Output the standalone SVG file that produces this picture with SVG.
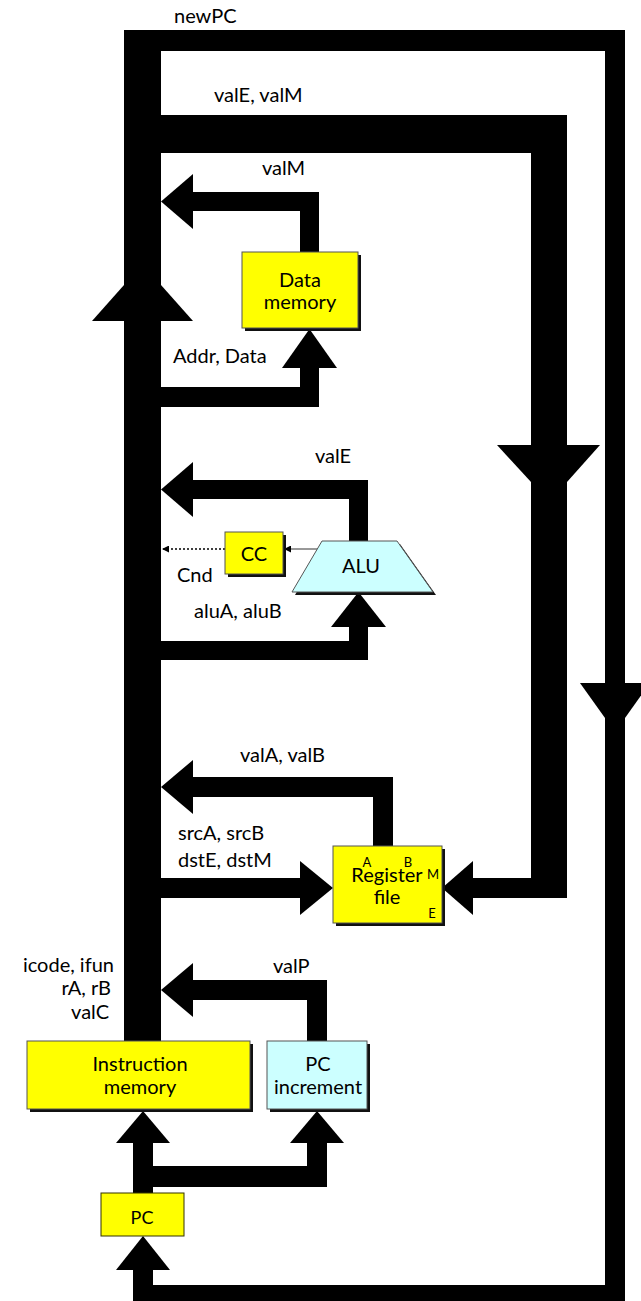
<svg xmlns="http://www.w3.org/2000/svg" width="641" height="1301" viewBox="0 0 641 1301">
<style>
.t{font-family:Lato,"Open Sans","Liberation Sans",sans-serif;font-size:20px;fill:#000}
.c{text-anchor:middle}
.e{text-anchor:end}
.s{font-size:13px}
.bus{fill:#000}
.yel{fill:#ffff00;stroke:#555;stroke-width:1}
.cyan{fill:#ccffff;stroke:#555;stroke-width:1}
.sh{fill:#111}
</style>
<defs>
<marker id="ah" viewBox="0 0 10 10" refX="10" refY="5" markerWidth="7" markerHeight="7" orient="auto" markerUnits="userSpaceOnUse">
<path d="M0,0 L10,5 L0,10 z" fill="#000"/>
</marker>
</defs>
<rect width="641" height="1301" fill="#fff"/>
<g id="connectors">
  <!-- newPC loop -->
  <rect class="bus" x="124" y="30" width="501" height="21"/>
  <rect class="bus" x="605" y="30" width="20" height="1271"/>
  <rect class="bus" x="133" y="1285" width="492" height="16"/>
  <rect class="bus" x="133" y="1270" width="20" height="31"/>
  <polygon class="bus" points="116,1270 170,1270 143,1236"/>
  <polygon class="bus" points="580,683 650,683 625,718 605,718"/>
  <!-- main bus -->
  <rect class="bus" x="124" y="30" width="37" height="1011"/>
  <polygon class="bus" points="92,321 193,321 161,285 124,285"/>
  <!-- valE, valM bus -->
  <rect class="bus" x="161" y="115" width="406" height="38"/>
  <rect class="bus" x="531" y="115" width="36" height="783"/>
  <polygon class="bus" points="497,445 600,445 567,482 531,482"/>
  <rect class="bus" x="473" y="878" width="94" height="20"/>
  <polygon class="bus" points="442,888 473,861 473,915"/>
  <!-- valM -->
  <rect class="bus" x="193" y="192" width="126" height="19"/>
  <rect class="bus" x="300" y="192" width="19" height="61"/>
  <polygon class="bus" points="161,201.5 193,174 193,229"/>
  <!-- Addr, Data -->
  <rect class="bus" x="161" y="387" width="158" height="20"/>
  <rect class="bus" x="300" y="368" width="19" height="39"/>
  <polygon class="bus" points="282,368 337,368 309.5,329"/>
  <!-- valE -->
  <rect class="bus" x="193" y="480" width="175" height="19"/>
  <rect class="bus" x="349" y="480" width="19" height="62"/>
  <polygon class="bus" points="161,489.5 193,462 193,517"/>
  <!-- aluA, aluB -->
  <rect class="bus" x="161" y="641" width="207" height="19"/>
  <rect class="bus" x="349" y="627" width="19" height="33"/>
  <polygon class="bus" points="331,627 386,627 358.5,592"/>
  <!-- valA, valB -->
  <rect class="bus" x="193" y="777" width="200" height="20"/>
  <rect class="bus" x="373" y="777" width="20" height="69"/>
  <polygon class="bus" points="161,787 193,760 193,814"/>
  <!-- srcA, srcB / dstE, dstM -->
  <rect class="bus" x="161" y="878" width="140" height="20"/>
  <polygon class="bus" points="300,861 300,915 333,888"/>
  <!-- valP -->
  <rect class="bus" x="193" y="980" width="134" height="20"/>
  <rect class="bus" x="307" y="980" width="20" height="61"/>
  <polygon class="bus" points="161,990 193,963 193,1017"/>
  <!-- PC out -->
  <rect class="bus" x="133" y="1142" width="20" height="51"/>
  <polygon class="bus" points="116,1143 170,1143 143,1111"/>
  <rect class="bus" x="153" y="1166" width="174" height="21"/>
  <rect class="bus" x="307" y="1142" width="20" height="45"/>
  <polygon class="bus" points="290,1143 344,1143 317,1111"/>
  <!-- ALU to CC, Cnd -->
  <line x1="318" y1="549" x2="284" y2="549" stroke="#333" stroke-width="1" marker-end="url(#ah)"/>
  <line x1="225" y1="549" x2="162" y2="549" stroke="#000" stroke-width="1.3" stroke-dasharray="2,2" marker-end="url(#ah)"/>
</g>
<g id="labels">
  <text class="t" x="174" y="23">newPC</text>
  <text class="t" x="214" y="102">valE, valM</text>
  <text class="t" x="262" y="175">valM</text>
  <text class="t" x="173" y="363">Addr, Data</text>
  <text class="t" x="315" y="463">valE</text>
  <text class="t" x="177" y="582">Cnd</text>
  <text class="t" x="194" y="618">aluA, aluB</text>
  <text class="t" x="240" y="762">valA, valB</text>
  <text class="t" x="178" y="840">srcA, srcB</text>
  <text class="t" x="178" y="867">dstE, dstM</text>
  <text class="t e" x="114" y="972">icode, ifun</text>
  <text class="t e" x="111" y="995">rA, rB</text>
  <text class="t e" x="109" y="1019">valC</text>
  <text class="t" x="273" y="973">valP</text>
</g>
<g id="data-memory">
  <rect class="sh" x="245" y="255" width="116" height="76"/>
  <rect class="yel" x="242" y="252" width="116" height="76"/>
  <text class="t c" x="300" y="287">Data</text>
  <text class="t c" x="300" y="309">memory</text>
</g>
<g id="alu">
  <polygon class="sh" points="325,544 400,544 436,595 295,595"/>
  <polygon class="cyan" points="322,541 397,541 433,592 292,592"/>
  <text class="t c" x="361" y="573">ALU</text>
</g>
<g id="cc">
  <rect class="sh" x="228" y="535" width="58" height="42"/>
  <rect class="yel" x="225" y="532" width="58" height="42"/>
  <text class="t c" x="254" y="561">CC</text>
</g>
<g id="register-file">
  <rect class="sh" x="336" y="849" width="109" height="77"/>
  <rect class="yel" x="333" y="846" width="109" height="77"/>
  <text class="t c" x="387" y="882">Register</text>
  <text class="t c" x="387" y="904">file</text>
  <text class="t s c" x="367" y="867">A</text>
  <text class="t s c" x="408" y="867">B</text>
  <text class="t s c" x="433" y="879">M</text>
  <text class="t s c" x="432" y="918">E</text>
</g>
<g id="instruction-memory">
  <rect class="sh" x="30" y="1044" width="223" height="68"/>
  <rect class="yel" x="27" y="1041" width="223" height="68"/>
  <text class="t c" x="140" y="1071">Instruction</text>
  <text class="t c" x="140" y="1094">memory</text>
</g>
<g id="pc-increment">
  <rect class="sh" x="270" y="1044" width="100" height="68"/>
  <rect class="cyan" x="267" y="1041" width="100" height="68"/>
  <text class="t c" x="318" y="1071">PC</text>
  <text class="t c" x="318" y="1094">increment</text>
</g>
<g id="pc">
  <rect x="101" y="1193" width="83" height="43" fill="#ffff00" stroke="#333300" stroke-width="1"/>
  <text class="t c" x="142" y="1224" style="font-size:18px">PC</text>
</g>
</svg>
